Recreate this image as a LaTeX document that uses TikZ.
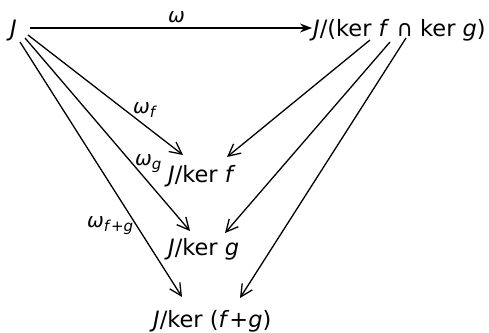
\documentclass[tikz,border=0pt]{standalone}
\usepackage{fontspec}
\setmainfont{DejaVu Sans}
\usepackage{tikz}
\usetikzlibrary{arrows.meta, calc}

\newcommand{\vi}[1]{\textit{#1}}
\newcommand{\lsub}[1]{\raisebox{-4pt}{\fontsize{15}{16}\selectfont #1}}

\begin{document}
\begin{tikzpicture}[
      x=1pt, y=1pt,
      every node/.style = {font=\fontsize{22.5}{26}\selectfont, inner sep=0pt},
      obj/.style = {anchor=base west},
      lbl/.style = {anchor=base west, font=\fontsize{20}{22}\selectfont},
      arr/.style = {-{Straight Barb[length=12pt, width=12pt, line width=1.3pt]},
                    line width=1.3pt, black},
      arrT/.style = {-{Stealth[length=12pt, width=9pt]},
                    line width=1.3pt, black},
    ]
    \useasboundingbox (0,0) rectangle (489,-332);
    \node[obj] (J)   at (10,-36)   {\vi{J}};
    \node[obj] (top) at (313,-36)  {\vi{J}/(ker \vi{f} ∩ ker \vi{g})};
    \node[obj] (kf)  at (168,-182) {\vi{J}/ker \vi{f}};
    \node[obj] (kg)  at (168,-255) {\vi{J}/ker \vi{g}};
    \node[obj] (kfg) at (153,-327) {\vi{J}/ker (\vi{f}+\vi{g})};
    % labels
    \node[lbl] (lw)   at (168,-22)  {\vi{ω}};
    \node[lbl] (lwf)  at (133,-113) {\vi{ω}\lsub{\vi{f}}};
    \node[lbl] (lwg)  at (135,-165) {\vi{ω}\lsub{\vi{g}}};
    \node[lbl] (lwfg) at (87,-227)  {\vi{ω}\lsub{\vi{f}+\vi{g}}};
    % maps
    \draw[arrT] ($(J.base west)+(20,8)$) -- ($(top.base west)+(-1,8)$);
    \draw[arr] ($(J.base west)+(18,1)$)  -- ($(kf.base west)+(15,27)$);
    \draw[arr] ($(J.base west)+(15,-2)$) -- ($(kg.base west)+(22,24)$);
    \draw[arr] ($(J.base west)+(10,-6)$) -- ($(kfg.base west)+(29,30)$);
    \draw[arr] ($(top.base west)+(57,-4)$) -- ($(kf.base west)+(59,25)$);
    \draw[arr] ($(top.base west)+(77,-6)$) -- ($(kg.base west)+(57,22)$);
    \draw[arr] ($(top.base west)+(93,-2)$) -- ($(kfg.base west)+(87,29)$);
\end{tikzpicture}
\end{document}
